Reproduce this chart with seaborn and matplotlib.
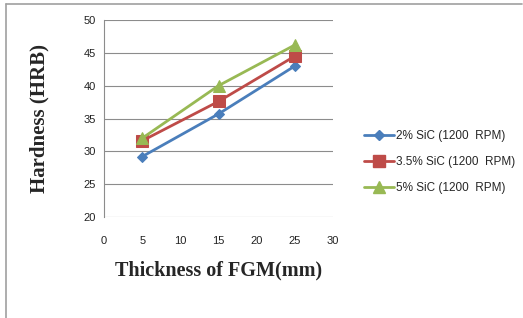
import numpy as np
import pandas as pd
import seaborn as sns
import matplotlib.pyplot as plt
from matplotlib.lines import Line2D

# Data
thickness = [5, 15, 25]
sic_2 = [29.2, 35.7, 43.0]
sic_35 = [31.6, 37.6, 44.5]
sic_5 = [32.0, 40.0, 46.2]
series_names = ['2% SiC (1200  RPM)', '3.5% SiC (1200  RPM)', '5% SiC (1200  RPM)']
colors = ['#4A7EBB', '#BE4B48', '#98B954']
markers = ['D', 's', '^']
marker_sizes = [5, 8, 8]

df = pd.DataFrame({
    'thickness': thickness * 3,
    'hardness': sic_2 + sic_35 + sic_5,
    'series': [s for s in series_names for _ in thickness],
})

sns.set_style('white')
plt.rcParams['font.family'] = ['Liberation Sans', 'DejaVu Sans']

fig = plt.figure(figsize=(5.23, 3.18), dpi=100)
ax = fig.add_axes([0.1989, 0.3176, 0.4379, 0.6195])

for name, col, mk, ms in zip(series_names, colors, markers, marker_sizes):
    sub = df[df['series'] == name]
    sns.lineplot(data=sub, x='thickness', y='hardness', ax=ax, color=col,
                 marker=mk, markersize=ms, markeredgecolor=col, linewidth=2,
                 legend=False)

ax.set_xlim(0, 30)
ax.set_ylim(20, 50)
ax.set_xticks(np.arange(0, 31, 5))
ax.set_yticks(np.arange(20, 51, 5))
ax.yaxis.grid(True, color='#8c8c8c', linewidth=0.8)
ax.xaxis.grid(False)
for side in ['top', 'right', 'bottom']:
    ax.spines[side].set_visible(False)
ax.spines['left'].set_color('#8c8c8c')
ax.spines['left'].set_linewidth(0.8)
ax.tick_params(axis='y', length=0, labelsize=8, colors='#222222', pad=6)
ax.tick_params(axis='x', length=0, labelsize=8, colors='#222222', pad=14)

ax.set_xlabel('Thickness of FGM(mm)', family='Liberation Serif', fontweight='bold',
              fontsize=14.5, labelpad=10)
ax.set_ylabel('Hardness (HRB)', family='Liberation Serif', fontweight='bold',
              fontsize=15, labelpad=24)

handles = [Line2D([], [], color=c, marker=m, markersize=s, linewidth=2)
           for c, m, s in zip(colors, markers, marker_sizes)]
fig.legend(handles, series_names, loc='center left', bbox_to_anchor=(0.675, 0.49),
           frameon=False, fontsize=8.5, handlelength=2.6, handletextpad=0.1,
           labelspacing=1.2)

# outer frame (cropped chart border)
fig.add_artist(Line2D([0.011, 0.998], [0.987, 0.987], color='#a0a0a0', linewidth=1.2))
fig.add_artist(Line2D([0.011, 0.011], [0.0, 0.987], color='#a0a0a0', linewidth=1.2))

fig.savefig('out.png', dpi=100)
